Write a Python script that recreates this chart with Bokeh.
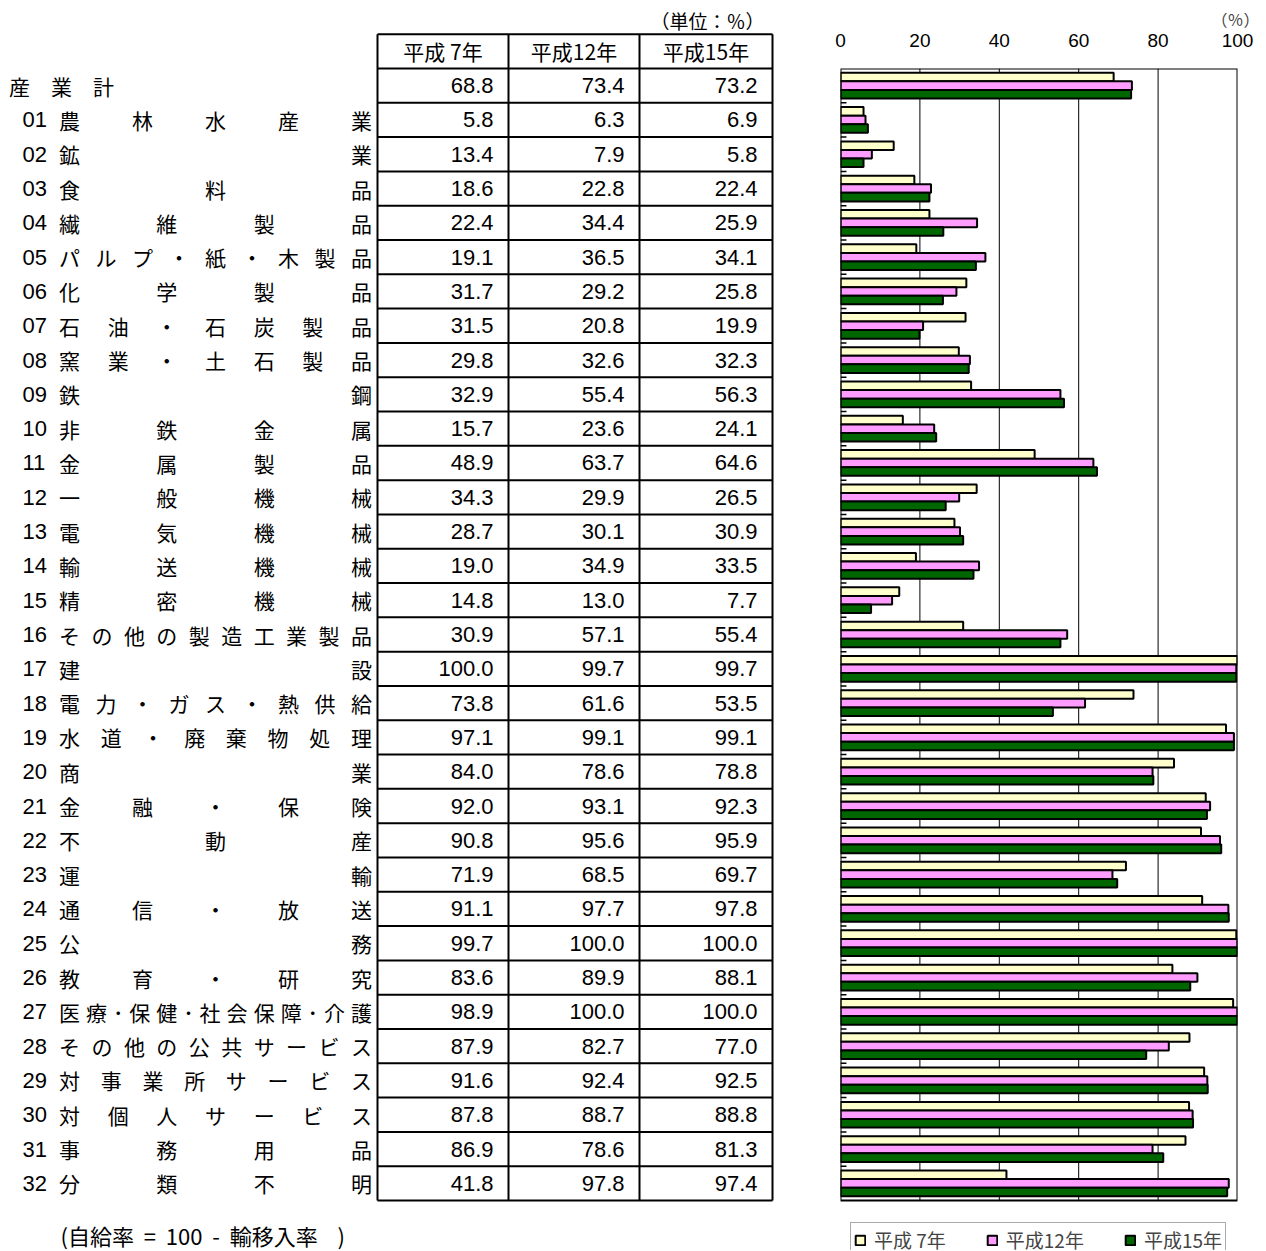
from bokeh.plotting import figure
from bokeh.models import Range1d, FixedTicker, Legend, LegendItem, ColumnDataSource
from bokeh.layouts import row
from bokeh.transform import dodge
from bokeh.core.properties import value
from bokeh.embed import file_html
from bokeh.resources import INLINE

# ---------------- data ----------------
years = ["平成 7年", "平成12年", "平成15年"]
codes = ["", "01", "02", "03", "04", "05", "06", "07", "08", "09", "10", "11", "12",
         "13", "14", "15", "16", "17", "18", "19", "20", "21", "22", "23", "24", "25",
         "26", "27", "28", "29", "30", "31", "32"]
names = ["産業計", "農林水産業", "鉱業", "食料品", "繊維製品", "パルプ・紙・木製品",
         "化学製品", "石油・石炭製品", "窯業・土石製品", "鉄鋼", "非鉄金属", "金属製品",
         "一般機械", "電気機械", "輸送機械", "精密機械", "その他の製造工業製品", "建設",
         "電力・ガス・熱供給", "水道・廃棄物処理", "商業", "金融・保険", "不動産", "運輸",
         "通信・放送", "公務", "教育・研究", "医療･保健･社会保障･介護",
         "その他の公共サービス", "対事業所サービス", "対個人サービス", "事務用品", "分類不明"]
h7 = [68.8, 5.8, 13.4, 18.6, 22.4, 19.1, 31.7, 31.5, 29.8, 32.9, 15.7, 48.9, 34.3,
      28.7, 19.0, 14.8, 30.9, 100.0, 73.8, 97.1, 84.0, 92.0, 90.8, 71.9, 91.1, 99.7,
      83.6, 98.9, 87.9, 91.6, 87.8, 86.9, 41.8]
h12 = [73.4, 6.3, 7.9, 22.8, 34.4, 36.5, 29.2, 20.8, 32.6, 55.4, 23.6, 63.7, 29.9,
       30.1, 34.9, 13.0, 57.1, 99.7, 61.6, 99.1, 78.6, 93.1, 95.6, 68.5, 97.7, 100.0,
       89.9, 100.0, 82.7, 92.4, 88.7, 78.6, 97.8]
h15 = [73.2, 6.9, 5.8, 22.4, 25.9, 34.1, 25.8, 19.9, 32.3, 56.3, 24.1, 64.6, 26.5,
       30.9, 33.5, 7.7, 55.4, 99.7, 53.5, 99.1, 78.8, 92.3, 95.9, 69.7, 97.8, 100.0,
       88.1, 100.0, 77.0, 92.5, 88.8, 81.3, 97.4]
x_ticks = [0, 20, 40, 60, 80, 100]
unit_note = "（単位：％）"
NB = "\u00a0"
foot_note = "(自給率" + NB * 2 + "=" + NB * 2 + "100" + NB * 2 + "-" + NB * 2 + "輸移入率" + NB * 4 + ")"
pct_note = "（％）"

# ---------------- styles / layout ----------------
JP = "Noto Sans CJK JP"
NUM = "Liberation Sans"
COLORS = ["#FFFFCC", "#FF9CFF", "#006600"]
N = len(names)
FIG_H = 1250
FRAME_TOP, FRAME_BOT = 68, 1200
ROW_PX = (FRAME_BOT - FRAME_TOP) / N
EM = 22

COL_EDGES = [377, 508, 639, 772]
CODE_X = 22
NAME_X0, NAME_X1 = 58, 372

# ---------------- table figure ----------------
hdr_top = FRAME_TOP - ROW_PX
a_top = -hdr_top / ROW_PX
a_bot = (FIG_H - hdr_top) / ROW_PX

A = figure(width=800, height=FIG_H, x_range=Range1d(0, 800),
           y_range=Range1d(a_bot, a_top), x_axis_location=None, y_axis_location=None,
           toolbar_location=None, output_backend="svg", min_border=0, frame_align=False)
A.grid.visible = False
A.outline_line_color = None

hy = list(range(N + 2))
A.segment(x0=COL_EDGES[0], x1=COL_EDGES[-1], y0=hy, y1=hy, line_color="black", line_width=2)
A.segment(x0=COL_EDGES, x1=COL_EDGES, y0=0, y1=N + 1, line_color="black", line_width=2)

hcx = [(COL_EDGES[j] + COL_EDGES[j + 1]) / 2 for j in range(3)]
A.text(x=hcx, y=[0.5] * 3, text=years, text_align="center", text_baseline="middle",
       text_font=value(JP), text_font_size="21px", text_color="black")

for j, vals in enumerate([h7, h12, h15]):
    A.text(x=[COL_EDGES[j + 1] - 15] * N, y=[k + 1.5 for k in range(N)],
           text=[f"{v:.1f}" for v in vals], text_align="right", text_baseline="middle",
           text_font=value(NUM), text_font_size="22px", text_color="black")

cx, cy, ct = [], [], []
kx, ky, kt = [], [], []
for k, (code, name) in enumerate(zip(codes, names)):
    u = k + 1.5
    if code == "":
        for i, ch in enumerate(name):
            cx.append(8 + EM / 2 + i * 42); cy.append(u); ct.append(ch)
        continue
    kx.append(CODE_X); ky.append(u); kt.append(code)
    widths = [EM * 0.5 if ch == "･" else EM for ch in name]
    gap = (NAME_X1 - NAME_X0 - sum(widths)) / max(len(name) - 1, 1)
    x = NAME_X0
    for ch, w in zip(name, widths):
        cx.append(x + w / 2); cy.append(u); ct.append(ch)
        x += w + gap
A.text(x=cx, y=cy, text=ct, text_align="center", text_baseline="middle",
       text_font=value(JP), text_font_size="21px", text_color="black")
A.text(x=kx, y=ky, text=kt, text_align="left", text_baseline="middle",
       text_font=value(NUM), text_font_size="22px", text_color="black")

A.text(x=[764], y=[(20 - hdr_top) / ROW_PX], text=[unit_note], text_align="right",
       text_baseline="middle", text_font=value(JP), text_font_size="19px", text_color="black")
A.text(x=[60], y=[(1234 - hdr_top) / ROW_PX], text=[foot_note], text_align="left",
       text_baseline="middle", text_font=value(JP), text_font_size="22px", text_color="black")

# ---------------- bar chart figure ----------------
pos = [k + 0.5 for k in range(N)]          # row centres (0 = top row)
src = ColumnDataSource(dict(pos=pos, h7=h7, h12=h12, h15=h15))
b_bot = (FIG_H - FRAME_TOP) / ROW_PX

B = figure(width=462, height=FIG_H, x_range=Range1d(0, 100), y_range=Range1d(b_bot, 0),
           x_axis_location="above", y_axis_location=None, toolbar_location=None,
           output_backend="svg", min_border_left=40, min_border_right=25,
           min_border_top=FRAME_TOP, min_border_bottom=0, title=pct_note, frame_align=False)
B.outline_line_color = None
B.grid.visible = False
B.xaxis.ticker = FixedTicker(ticks=x_ticks)
B.xaxis.axis_line_color = None
B.xaxis.major_tick_out = 0
B.xaxis.major_tick_in = 0
B.xaxis.minor_tick_out = 0
B.xaxis.minor_tick_in = 0
B.xaxis.major_label_standoff = 22
B.xaxis.major_label_text_font = NUM
B.xaxis.major_label_text_font_size = "19px"
B.xaxis.major_label_text_color = "black"
B.title.align = "right"
B.title.offset = -22
B.title.standoff = 0
B.title.text_font = JP
B.title.text_font_size = "16px"
B.title.text_font_style = "normal"

# vertical grid lines at the inner ticks, spanning the category area
B.segment(x0=x_ticks[1:-1], x1=x_ticks[1:-1], y0=0, y1=N, line_color="black", line_width=1)
# small category-boundary ticks on the left edge
B.segment(x0=0, x1=1.5, y0=list(range(1, N)), y1=list(range(1, N)),
          line_color="black", line_width=1.5)

renderers = []
for off, col, c in zip([-0.25, 0.0, 0.25], ["h7", "h12", "h15"], COLORS):
    r = B.hbar(y=dodge("pos", off), left=0, right=col, height=0.25,
               fill_color=c, line_color="black", line_width=2, source=src)
    renderers.append(r)

# plot-area box
B.quad(left=x_ticks[0], right=x_ticks[-1], top=0, bottom=N, fill_color=None,
       line_color="black", line_width=2)

legend = Legend(items=[LegendItem(label=years[i], renderers=[renderers[i]]) for i in range(3)],
                orientation="horizontal", location=(10, -7), margin=0, padding=3,
                spacing=40, label_standoff=8, glyph_width=12, glyph_height=12,
                label_text_font=JP, label_text_font_size="19px",
                border_line_color="#555555", border_line_width=1.5,
                background_fill_color="white", background_fill_alpha=1)
B.add_layout(legend)

layout = row(A, B, spacing=0)
open("out.html", "w").write(file_html(layout, INLINE))
